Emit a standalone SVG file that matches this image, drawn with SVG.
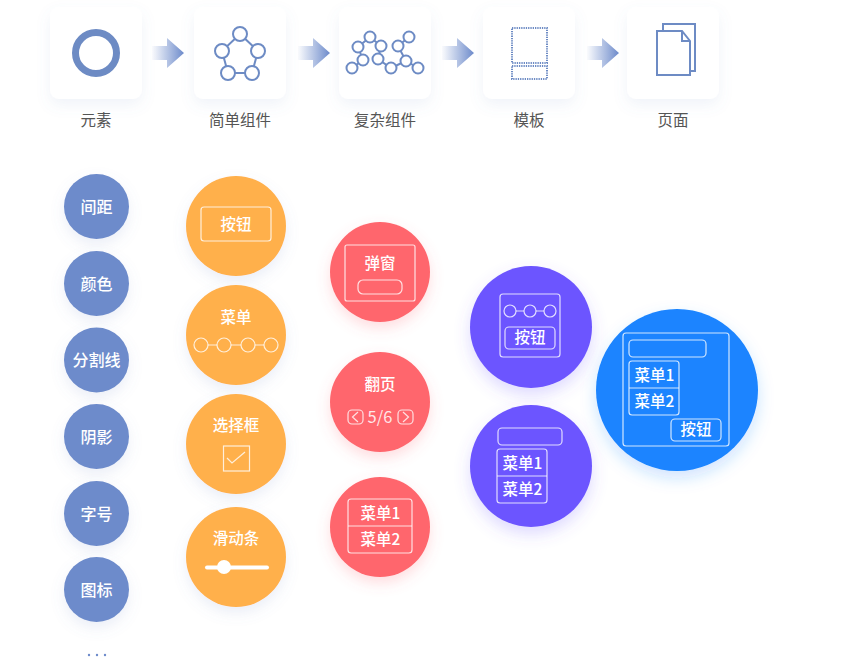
<svg xmlns="http://www.w3.org/2000/svg" width="845" height="669" viewBox="0 0 845 669">
<style>
text{font-family:"Noto Sans CJK SC","Noto Sans",sans-serif;text-anchor:middle}
.lb{font-size:15.500px;fill:#555}
.w{font-size:15.500px;fill:#fff;font-weight:500}
.wl{font-size:16px;fill:#fff;font-weight:500}
.card{fill:#fff;filter:url(#cs)}
.ic{fill:#fff;stroke:#6d8bc4;stroke-width:2}
.icl{fill:none;stroke:#6d8bc4;stroke-width:2}
.dot{fill:none;stroke:#6d8bc4;stroke-width:2;stroke-dasharray:1.3 1}
.o{fill:none;stroke:#fff;stroke-opacity:.8;stroke-width:1.2}
.base{fill:#6d8bcb;filter:url(#sb)}
.simple{fill:#ffb04c;filter:url(#sb)}
.comp{fill:#ff666d;filter:url(#sr)}
.tpl{fill:#6c54ff;filter:url(#sp)}
.page{fill:#1a84ff;filter:url(#sl)}
</style>
<defs>
<linearGradient id="ag" x1="0" x2="1" y1="0" y2="0"><stop offset="0" stop-color="#6d8bcb" stop-opacity=".03"/><stop offset="1" stop-color="#6d8bcb"/></linearGradient>
<path id="arrow" d="M0 46H15V38L32 53L15 68V60H0Z" fill="url(#ag)"/>
<filter id="cs" x="-30%" y="-30%" width="160%" height="170%"><feDropShadow dx="0" dy="6" stdDeviation="7" flood-color="#6d8bcb" flood-opacity=".1"/></filter>
<filter id="sb" x="-40%" y="-40%" width="180%" height="190%"><feDropShadow dx="0" dy="6" stdDeviation="7" flood-color="#6d8bcb" flood-opacity=".14"/></filter>
<filter id="sr" x="-40%" y="-40%" width="180%" height="190%"><feDropShadow dx="0" dy="6" stdDeviation="7" flood-color="#ff666d" flood-opacity=".22"/></filter>
<filter id="sp" x="-40%" y="-40%" width="180%" height="190%"><feDropShadow dx="0" dy="7" stdDeviation="8" flood-color="#6c54ff" flood-opacity=".22"/></filter>
<filter id="sl" x="-40%" y="-40%" width="180%" height="190%"><feDropShadow dx="0" dy="7" stdDeviation="8" flood-color="#1a84ff" flood-opacity=".22"/></filter>
</defs>
<rect width="845" height="669" fill="#fff"/>

<g id="connectors">
<use href="#arrow" x="152"/>
<use href="#arrow" x="298"/>
<use href="#arrow" x="442"/>
<use href="#arrow" x="587"/>
</g>

<g id="step-element">
<rect class="card" x="50" y="7" width="92" height="92" rx="9"/>
<circle cx="96" cy="53" r="20.500" fill="none" stroke="#6d8bc4" stroke-width="7"/>
<text class="lb" x="96" y="126">元素</text>
</g>
<g id="step-simple">
<rect class="card" x="194" y="7" width="92" height="92" rx="9"/>
<path class="icl" d="M240 34L222 51L228 73H252L258 51Z"/>
<circle class="ic" cx="240" cy="34" r="7"/><circle class="ic" cx="222" cy="51" r="7"/><circle class="ic" cx="258" cy="51" r="7"/><circle class="ic" cx="228" cy="73" r="7"/><circle class="ic" cx="252" cy="73" r="7"/>
<text class="lb" x="240" y="126">简单组件</text>
</g>
<g id="step-complex">
<rect class="card" x="339" y="7" width="92" height="92" rx="9"/>
<path class="icl" d="M358 47L370 37L381 46M358 47L363 60L352 68M381 46L378 59L391 68L406 61L418 68M398 46L409 37M398 46L406 61"/>
<g class="ic">
<circle cx="358" cy="47" r="5.500"/><circle cx="370" cy="37" r="5.500"/><circle cx="381" cy="46" r="5.500"/><circle cx="363" cy="60" r="5.500"/><circle cx="352" cy="68" r="5.500"/><circle cx="378" cy="59" r="5.500"/><circle cx="391" cy="68" r="5.500"/><circle cx="398" cy="46" r="5.500"/><circle cx="409" cy="37" r="5.500"/><circle cx="406" cy="61" r="5.500"/><circle cx="418" cy="68" r="5.500"/>
</g>
<text class="lb" x="385" y="126">复杂组件</text>
</g>
<g id="step-template">
<rect class="card" x="483" y="7" width="92" height="92" rx="9"/>
<rect class="dot" x="512" y="28" width="35" height="35"/>
<rect class="dot" x="512" y="66" width="35" height="13"/>
<text class="lb" x="529" y="126">模板</text>
</g>
<g id="step-page">
<rect class="card" x="627" y="7" width="92" height="92" rx="9"/>
<rect class="icl" x="663" y="24" width="32" height="47"/>
<path class="ic" d="M657 31H682L690 41V75H657Z"/>
<path class="icl" d="M682 31V41H690"/>
<text class="lb" x="673" y="126">页面</text>
</g>

<g id="e1"><circle class="base" cx="96.500" cy="206.500" r="32.500"/><text class="wl" x="96.500" y="212.500">间距</text></g>
<g id="e2"><circle class="base" cx="96.500" cy="283.500" r="32.500"/><text class="wl" x="96.500" y="289.500">颜色</text></g>
<g id="e3"><circle class="base" cx="96.500" cy="360" r="32.500"/><text class="wl" x="96.500" y="366">分割线</text></g>
<g id="e4"><circle class="base" cx="96.500" cy="436.500" r="32.500"/><text class="wl" x="96.500" y="442.500">阴影</text></g>
<g id="e5"><circle class="base" cx="96.500" cy="513.500" r="32.500"/><text class="wl" x="96.500" y="519.500">字号</text></g>
<g id="e6"><circle class="base" cx="96.500" cy="589.500" r="32.500"/><text class="wl" x="96.500" y="595.500">图标</text></g>
<g id="more" fill="#6d8bcb"><circle cx="89" cy="655" r="1.200"/><circle cx="97" cy="655" r="1.200"/><circle cx="105" cy="655" r="1.200"/></g>

<g id="s-button"><circle class="simple" cx="236" cy="226" r="50"/><rect class="o" x="201" y="207" width="70" height="34" rx="3"/><text class="w" x="236" y="230">按钮</text></g>
<g id="s-menu"><circle class="simple" cx="236" cy="335" r="50"/><text class="w" x="236" y="323">菜单</text>
<path class="o" d="M208 345H217M231 345H241M255 345H264"/><circle class="o" cx="201" cy="345" r="7"/><circle class="o" cx="224" cy="345" r="7"/><circle class="o" cx="248" cy="345" r="7"/><circle class="o" cx="271" cy="345" r="7"/></g>
<g id="s-check"><circle class="simple" cx="236" cy="444" r="50"/><text class="w" x="236" y="431">选择框</text>
<rect class="o" x="223.500" y="446" width="26" height="25"/><path class="o" d="M227 458L232 463L245 452"/></g>
<g id="s-slider"><circle class="simple" cx="236" cy="557" r="50"/><text class="w" x="236" y="544">滑动条</text>
<path d="M207 567.500H267" stroke="#fff" stroke-width="4" stroke-linecap="round" fill="none"/><circle cx="224" cy="567" r="7" fill="#fff"/></g>

<g id="c-dialog"><circle class="comp" cx="380" cy="272" r="50"/><rect class="o" x="345" y="245" width="70" height="56" rx="2"/><text class="w" x="380" y="269">弹窗</text><rect class="o" x="358" y="280" width="44" height="14" rx="5"/></g>
<g id="c-pager"><circle class="comp" cx="380" cy="402" r="50"/><text class="w" x="380" y="390">翻页</text>
<rect class="o" x="348" y="410" width="15" height="14" rx="4"/><path class="o" d="M358 412L352.500 417L358 422"/>
<text x="380" y="422.500" font-size="16.500" fill="#fff" fill-opacity=".85">5/6</text>
<rect class="o" x="398" y="410" width="15" height="14" rx="4"/><path class="o" d="M403 412L408.500 417L403 422"/></g>
<g id="c-menu"><circle class="comp" cx="380" cy="527" r="50"/><rect class="o" x="348" y="499" width="64" height="54" rx="3"/><path class="o" d="M348 526H412"/><text class="w" x="380.500" y="519">菜单1</text><text class="w" x="380.500" y="545">菜单2</text></g>

<g id="t-1"><circle class="tpl" cx="531" cy="327" r="61"/><rect class="o" x="500" y="294" width="60" height="63" rx="3"/>
<path class="o" d="M516 311H524M536 311H544"/><circle class="o" cx="510" cy="311" r="6"/><circle class="o" cx="530" cy="311" r="6"/><circle class="o" cx="550" cy="311" r="6"/>
<rect class="o" x="505" y="327" width="50" height="22" rx="4"/><text class="w" x="530" y="343">按钮</text></g>
<g id="t-2"><circle class="tpl" cx="531" cy="466" r="61"/><rect class="o" x="498" y="428" width="64" height="17" rx="4"/>
<rect class="o" x="497" y="449" width="50" height="54" rx="3"/><path class="o" d="M497 476H547"/><text class="w" x="522.500" y="469">菜单1</text><text class="w" x="522.500" y="495">菜单2</text></g>

<g id="p-1"><circle class="page" cx="677" cy="390" r="81"/><rect class="o" x="623" y="333" width="106" height="113" rx="3"/>
<rect class="o" x="629" y="340" width="77" height="17" rx="4"/>
<rect class="o" x="629" y="361" width="50" height="54" rx="3"/><path class="o" d="M629 388H679"/><text class="w" x="654.500" y="381">菜单1</text><text class="w" x="654.500" y="407">菜单2</text>
<rect class="o" x="671" y="419" width="50" height="22" rx="4"/><text class="w" x="696" y="435">按钮</text></g>
</svg>
